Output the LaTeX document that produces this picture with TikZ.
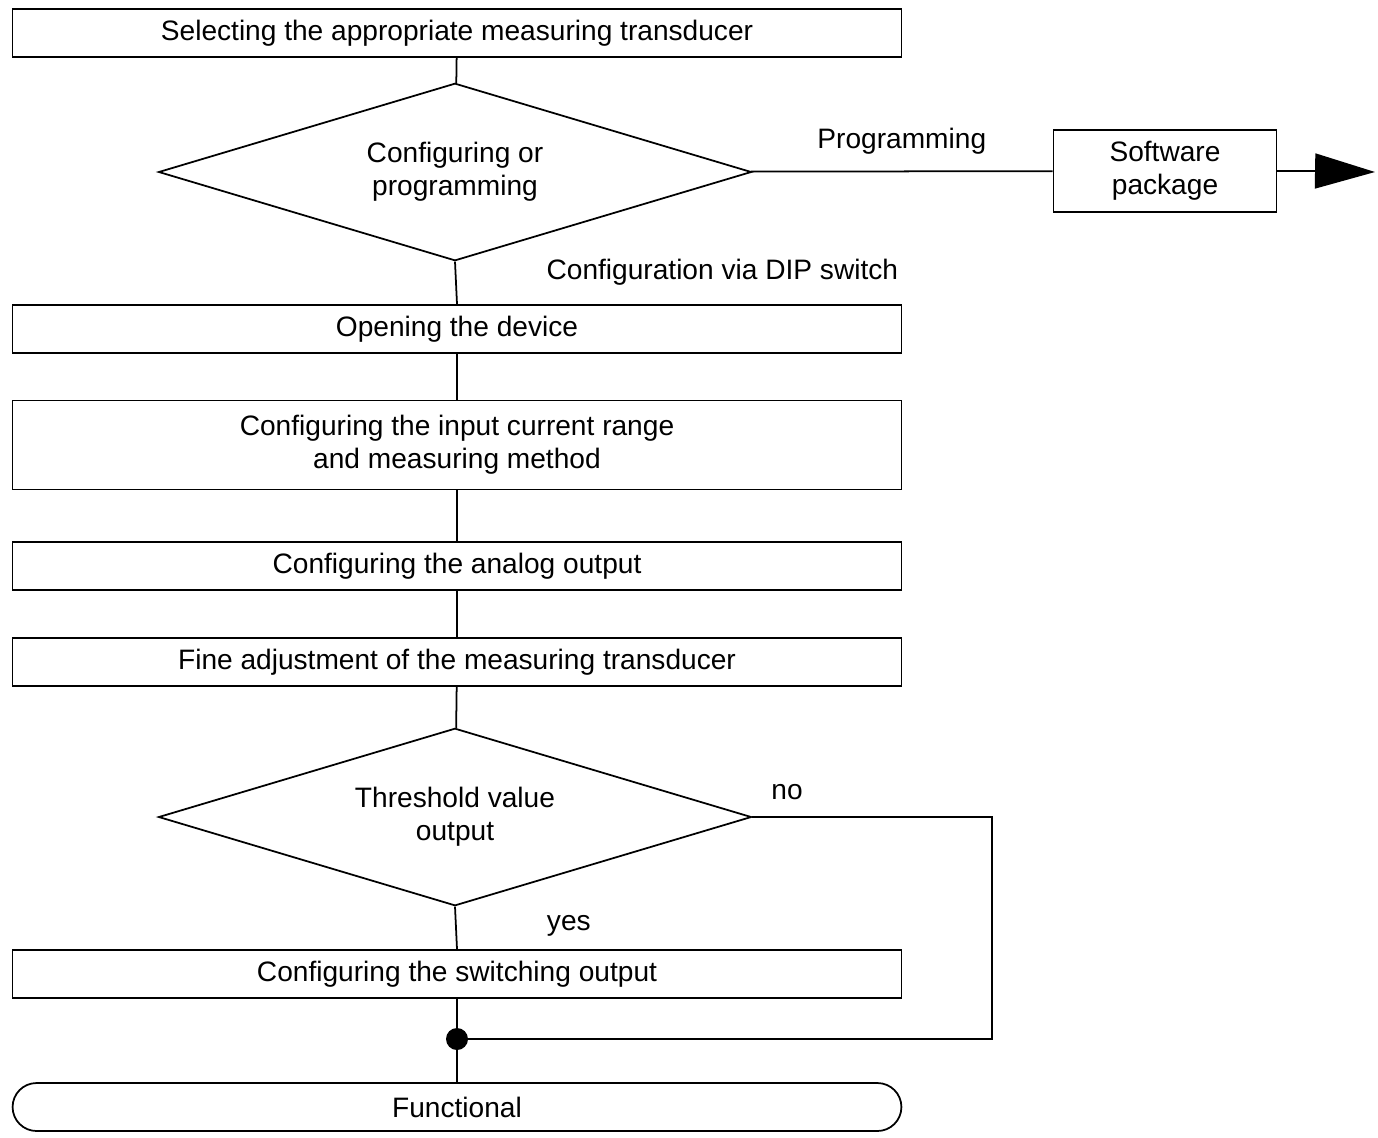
\documentclass[tikz,border=0pt]{standalone}
\usepackage{fontspec}
\setmainfont{Liberation Sans}
\usetikzlibrary{shapes.geometric, arrows.meta, positioning}

\begin{document}
\begin{tikzpicture}[
    x=0.02cm, y=-0.02cm,
    font=\fontsize{16}{19}\selectfont,
    line width=1pt,
    box/.style={draw, minimum width=17.78cm, inner sep=0pt, align=center},
    decision/.style={diamond, draw, aspect=3.33, minimum width=11.86cm, minimum height=3.55cm, inner sep=0pt, align=center},
    every label/.style={inner sep=0pt}
]
    \useasboundingbox (0,0) rectangle (1378,1137);
    % main column of steps
    \node[box, minimum height=0.96cm] (select) at (457,33) {Selecting the appropriate measuring transducer};
    \node[decision] (mode) at (455,172) {Configuring or\\programming};
    \node[draw, minimum width=4.46cm, minimum height=1.64cm, align=center] (soft) at (1165,171) {Software\\package};
    \node[box, minimum height=0.96cm] (open) at (457,329) {Opening the device};
    \node[box, minimum height=1.78cm] (range) at (457,445) {Configuring the input current range\\and measuring method};
    \node[box, minimum height=0.96cm] (analog) at (457,566) {Configuring the analog output};
    \node[box, minimum height=0.96cm] (fine) at (457,662) {Fine adjustment of the measuring transducer};
    \node[decision] (thresh) at (455,817) {Threshold value\\output};
    \node[box, minimum height=0.96cm] (switch) at (457,974) {Configuring the switching output};
    \node[box, rounded corners=0.48cm, minimum height=0.96cm] (func) at (457,1107) {Functional};
    \coordinate (join) at (457,1039);
    \coordinate (corner1) at (992,817);
    \coordinate (corner2) at (992,1039);
    \coordinate (exit) at (1375,172);

    % connectors
    \draw (select) -- (mode);
    \draw (mode) -- node[above=6pt, pos=0.5] {Programming} (soft);
    \draw (soft.east) -- ++(38,0) coordinate (tipstart);
    \draw[-{Triangle[length=1.2cm, width=0.7cm]}] (tipstart) -- (exit);
    \draw (mode.south) -- (open.north) node[pos=0.25, right=48pt] {Configuration via DIP switch};
    \draw (open) -- (range);
    \draw (range) -- (analog);
    \draw (analog) -- (fine);
    \draw (fine) -- (thresh);
    \draw (thresh.south) -- (switch.north) node[pos=0.45, right=48pt] {yes};
    \draw (thresh.east) -- (corner1) -- (corner2) -- (join);
    \node at (787,792) {no};
    \draw (switch) -- (join) -- (func);
    \fill (join) circle (0.22cm);
\end{tikzpicture}
\end{document}
